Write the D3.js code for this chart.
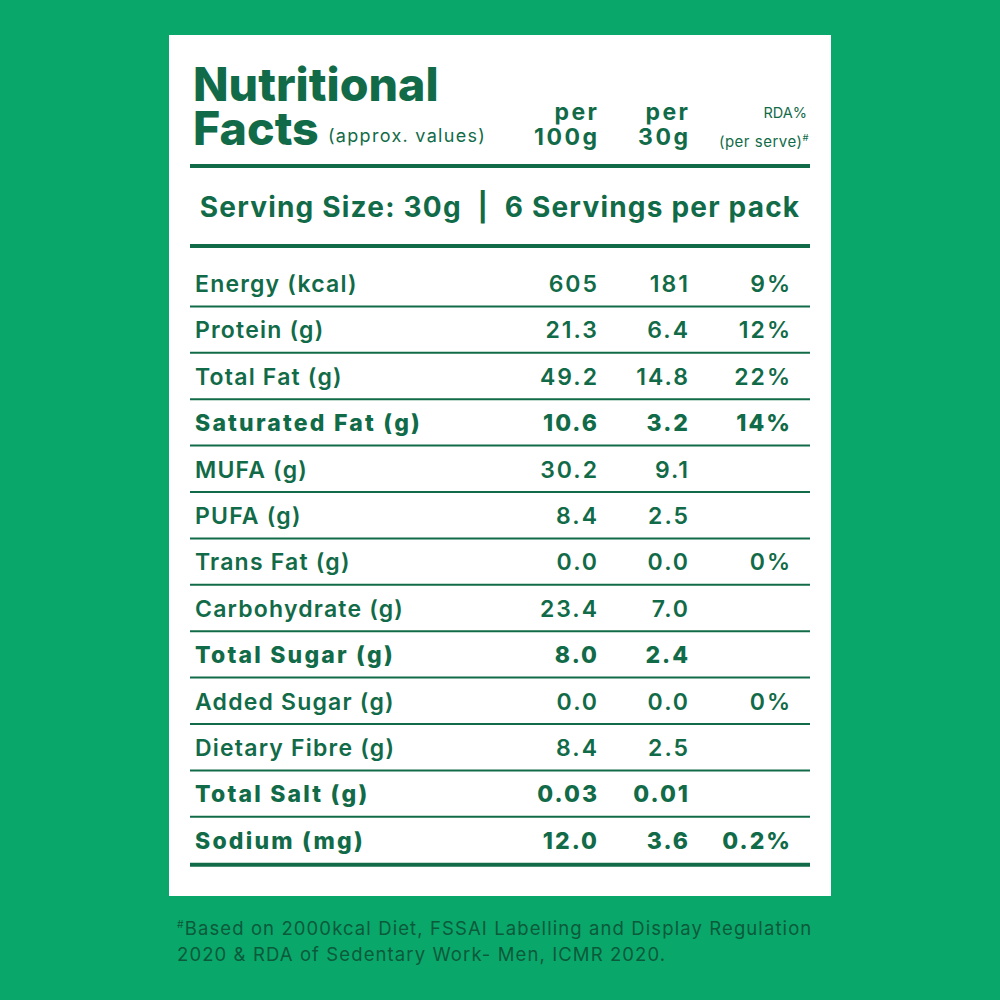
<!DOCTYPE html>
<html><head><meta charset="utf-8">
<script src="https://cdn.jsdelivr.net/npm/d3@7"></script>
<style>html,body{margin:0;padding:0;background:#0aa76b;}svg{display:block;}</style>
</head><body>
<script>
const nutrients = ["Energy (kcal)","Protein (g)","Total Fat (g)","Saturated Fat (g)","MUFA (g)","PUFA (g)","Trans Fat (g)","Carbohydrate (g)","Total Sugar (g)","Added Sugar (g)","Dietary Fibre (g)","Total Salt (g)","Sodium (mg)"];
const per100g = ["605","21.3","49.2","10.6","30.2","8.4","0.0","23.4","8.0","0.0","8.4","0.03","12.0"];
const per30g  = ["181","6.4","14.8","3.2","9.1","2.5","0.0","7.0","2.4","0.0","2.5","0.01","3.6"];
const rdaPct  = ["9%","12%","22%","14%","","","0%","","","0%","","","0.2%"];
const boldRows = ["Saturated Fat (g)","Total Sugar (g)","Total Salt (g)","Sodium (mg)"];
const columns = ["per100g","per30g","rda"];
const footnote = ["Based on 2000kcal Diet, FSSAI Labelling and Display Regulation","2020 & RDA of Sedentary Work- Men, ICMR 2020."];

const W=1000,H=1000, dark="#126b48", bg="#0aa76b", noteCol="#0b5a3a";
const FONT="Inter, 'Open Sans', sans-serif";
const svg=d3.select("body").append("svg").attr("width",W).attr("height",H);
svg.append("rect").attr("width",W).attr("height",H).attr("fill",bg);
svg.append("rect").attr("x",169).attr("y",35).attr("width",662).attr("height",861).attr("fill","#fff");

const y=d3.scaleBand().domain(nutrients).range([260,863.2]);
const colX=d3.scaleOrdinal().domain(columns).range([597,688,790]);
const rows=nutrients.map((n,i)=>({name:n,per100g:per100g[i],per30g:per30g[i],rda:rdaPct[i],bold:boldRows.includes(n)}));

// header
const t=svg.append("g").attr("fill",dark).style("font-family",FONT);
t.append("text").attr("x",193).attr("y",101).attr("font-size",46.5).attr("font-weight",800).text("Nutritional");
t.append("text").attr("x",193).attr("y",145).attr("font-size",46.5).attr("font-weight",800).text("Facts");
t.append("text").attr("x",328).attr("y",142).attr("font-size",18).attr("font-weight",400).attr("letter-spacing",1.3).text("(approx. values)");
[["per100g","per","100g"],["per30g","per","30g"]].forEach(([c,a,b])=>{
  t.append("text").attr("x",colX(c)+2.5).attr("y",120).attr("text-anchor","end").attr("font-size",23).attr("font-weight",700).attr("letter-spacing",2.5).text(a);
  t.append("text").attr("x",colX(c)+2.5).attr("y",145).attr("text-anchor","end").attr("font-size",23).attr("font-weight",700).attr("letter-spacing",2.5).text(b);
});
t.append("text").attr("x",807).attr("y",118).attr("text-anchor","end").attr("font-size",14.5).attr("font-weight",400).text("RDA%");
const ps=t.append("text").attr("x",809).attr("y",147).attr("text-anchor","end").attr("font-size",15).attr("font-weight",400).attr("letter-spacing",0.5);
ps.append("tspan").text("(per serve)");
ps.append("tspan").attr("font-size",9.5).attr("dy",-6).text("#");

const line=(yy,w)=>svg.append("line").attr("x1",190).attr("x2",810).attr("y1",yy).attr("y2",yy).attr("stroke",dark).attr("stroke-width",w);
line(166,4);
t.append("text").attr("x",500).attr("y",217).attr("text-anchor","middle").attr("font-size",28).attr("font-weight",700).attr("letter-spacing",1.2).attr("xml:space","preserve").text("Serving Size: 30g  |  6 Servings per pack");
line(246,4);

// rows
const g=svg.append("g").style("font-family",FONT).attr("fill",dark);
const rg=g.selectAll("g.row").data(rows).join("g").attr("class","row").attr("transform",d=>`translate(0,${y(d.name)})`);
rg.append("text").attr("x",195).attr("y",32).attr("font-size",23)
  .attr("font-weight",d=>d.bold?800:600).attr("letter-spacing",d=>d.bold?2.2:1.2).text(d=>d.name);
columns.forEach(c=>{
  rg.append("text").attr("x",d=>colX(c)+(d.bold?2:2)).attr("y",32).attr("text-anchor","end").attr("font-size",23)
    .attr("font-weight",d=>d.bold?800:600).attr("letter-spacing",2).text(d=>d[c]);
});
rg.filter((d,i)=>i<rows.length-1).append("line").attr("x1",190).attr("x2",810).attr("y1",y.bandwidth()).attr("y2",y.bandwidth()).attr("stroke",dark).attr("stroke-width",2);
line(y.range()[1]+1.5,4);

// footnote
const f=svg.append("text").attr("x",177).attr("y",935).attr("fill",noteCol).style("font-family",FONT).attr("font-size",18.5).attr("font-weight",400).attr("letter-spacing",1.1);
f.append("tspan").attr("font-size",10.5).attr("dy",-7).text("#");
f.append("tspan").attr("dy",7).text(footnote[0]);
svg.append("text").attr("x",177).attr("y",961).attr("fill",noteCol).style("font-family",FONT).attr("font-size",18.5).attr("font-weight",400).attr("letter-spacing",1.1).text(footnote[1]);
</script>
</body></html>
